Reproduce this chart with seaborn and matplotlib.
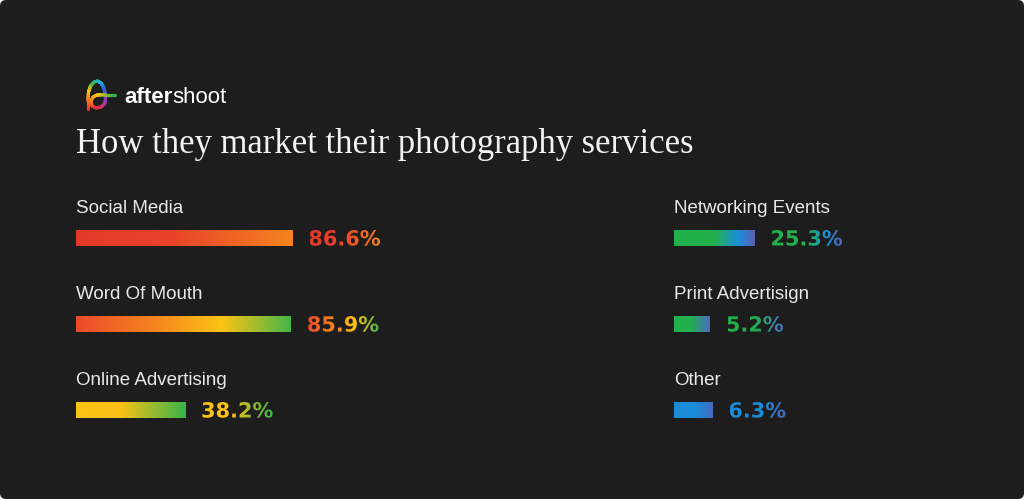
import numpy as np
import pandas as pd
import seaborn as sns
import matplotlib
matplotlib.use('Agg')
import matplotlib.pyplot as plt
from matplotlib.colors import LinearSegmentedColormap
from matplotlib.patches import PathPatch, FancyBboxPatch
from matplotlib.textpath import TextPath
from matplotlib.font_manager import FontProperties
from matplotlib.collections import LineCollection

# data
left_labels = ['Social Media', 'Word Of Mouth', 'Online Advertising']
left_values = [86.6, 85.9, 38.2]
right_labels = ['Networking Events', 'Print Advertisign', 'Other']
right_values = [25.3, 5.2, 6.3]
title = 'How they market their photography services'

# gradient stops per bar (style only)
gradients = {
    'Social Media': [(0, '#e4382b'), (0.45, '#e8442a'), (1, '#f6841f')],
    'Word Of Mouth': [(0, '#ec4a2a'), (0.35, '#f5821f'), (0.68, '#fcc414'), (1, '#45b649')],
    'Online Advertising': [(0, '#fcc414'), (0.4, '#fbc116'), (1, '#38b44a')],
    'Networking Events': [(0, '#21b04b'), (0.5, '#24b04c'), (0.8, '#1b8fdc'), (1, '#5c5fae')],
    'Print Advertisign': [(0, '#21b04b'), (0.45, '#22b04b'), (1, '#4a6cc2')],
    'Other': [(0, '#1b8bd9'), (0.6, '#1c8ad8'), (1, '#4a68be')],
}

BG = '#1d1d1d'
TXT = '#e9e9e9'
W, H = 1024, 499
PX_PER_UNIT = 2.217   # bar scale
STUB = 11             # bars start a little left of zero

sns.set_theme(style='white')
plt.rcParams['font.family'] = ['Liberation Sans', 'DejaVu Sans']

fig = plt.figure(figsize=(W / 100, H / 100), dpi=100, facecolor='white')

# card background
bg = fig.add_axes([0, 0, 1, 1], zorder=0)
bg.set_xlim(0, W)
bg.set_ylim(0, H)
bg.axis('off')
bg.add_patch(FancyBboxPatch((0, 0), W, H, boxstyle='round,pad=0,rounding_size=6',
                            fc=BG, ec='none', transform=bg.transData))

# overlay for gradient text, logo, title (pixel coords, bottom origin)
over = fig.add_axes([0, 0, 1, 1], zorder=3)
over.set_xlim(0, W)
over.set_ylim(0, H)
over.axis('off')
over.patch.set_alpha(0)


def grad_cmap(name):
    return LinearSegmentedColormap.from_list(name, gradients[name])


def gradient_text(x, y, s, cmap, size_pt, prop):
    tp = TextPath((x, y), s, size=size_pt * 100 / 72, prop=prop)
    ext = tp.get_extents()
    pp = PathPatch(tp, fc='none', ec='none', transform=over.transData)
    over.add_patch(pp)
    im = over.imshow(np.linspace(0, 1, 256)[None, :], cmap=cmap, aspect='auto',
                     extent=(ext.x0, ext.x1, ext.y0, ext.y1), interpolation='bilinear')
    im.set_clip_path(pp)


pct_prop = FontProperties(family='DejaVu Sans', weight='bold')
row_h = 86


def draw_column(labels, values, left_px):
    ax_w = (100 + STUB) * PX_PER_UNIT
    top, bottom = 195, 195 + 3 * row_h
    ax = fig.add_axes([left_px / W, (H - bottom) / H, ax_w / W, (bottom - top) / H], zorder=2)
    ax.patch.set_alpha(0)
    df = pd.DataFrame({'label': labels, 'value': values})
    sns.barplot(data=df, x='value', y='label', orient='h', ax=ax, color='white',
                saturation=1, width=16 / row_h)
    for i, (p, lab) in enumerate(zip(ax.patches, labels)):
        p.set_x(p.get_x() - STUB)
        p.set_width(p.get_width() + STUB)
        x0, y0, w, h = p.get_x(), p.get_y(), p.get_width(), p.get_height()
        im = ax.imshow(np.linspace(0, 1, 256)[None, :], cmap=grad_cmap(lab), aspect='auto',
                       extent=(x0, x0 + w, y0 + h, y0), interpolation='bilinear')
        im.set_clip_path(p)
        p.set_facecolor('none')
        p.set_edgecolor('none')
        ax.text(-STUB, i - 25 / row_h, lab, color=TXT, fontsize=13.5, va='baseline',
                family=['Liberation Sans', 'DejaVu Sans'])
    ax.set_xlim(-STUB, 100)
    ax.set_ylim(2.5, -0.5)
    ax.axis('off')
    for i, (lab, v) in enumerate(zip(labels, values)):
        xd, yd = ax.transData.transform((v, i))
        gradient_text(xd + 16, yd - 7.5, f'{v}%', grad_cmap(lab), 15, pct_prop)


draw_column(left_labels, left_values, 76)
draw_column(right_labels, right_values, 674)

# title
over.text(76, H - 153, title, color='#f2f2f2', fontsize=24.9, va='baseline',
          family=['Liberation Serif', 'DejaVu Serif'])

# logo icon: one stroke, arch then loop and crossbar
stroke = np.array([(88, 108.5), (88, 100), (88.5, 92), (90.5, 86), (94, 82), (97.5, 81),
                   (101, 83), (103.5, 87), (105, 93), (105.5, 100), (104.5, 104),
                   (101, 107), (96, 108), (92, 106), (91, 101), (93, 97), (97, 95),
                   (104, 94.7), (115, 94.7)], float)
rainbow = LinearSegmentedColormap.from_list(
    'rb', [(0, '#e8302d'), (0.1, '#f5821f'), (0.18, '#fcc414'), (0.26, '#2db34a'),
           (0.34, '#1fb5e8'), (0.42, '#2f63d8'), (0.52, '#8a3fc0'), (0.6, '#d02f6e'),
           (0.68, '#e8302d'), (0.76, '#f5821f'), (0.84, '#fcc414'), (1, '#2db34a')])


def smooth(pts, n=160):
    seg = np.r_[0, np.cumsum(np.hypot(*np.diff(pts, axis=0).T))]
    tt = np.linspace(0, seg[-1], n)
    return np.column_stack([np.interp(tt, seg, pts[:, 0]), np.interp(tt, seg, pts[:, 1])])


s = smooth(stroke)
s[:, 1] = H - s[:, 1]
segs = np.stack([s[:-1], s[1:]], axis=1)
lc = LineCollection(segs, cmap=rainbow, linewidths=2.3, capstyle='round', joinstyle='round')
lc.set_array(np.linspace(0, 1, len(segs)))
over.add_collection(lc)

t1 = over.text(124, H - 103, 'after', color='white', fontsize=16, weight='bold', va='baseline')
r = fig.canvas.get_renderer()
bb = t1.get_window_extent(r)
over.text(bb.x1, H - 103, 'shoot', color='white', fontsize=16, va='baseline')

fig.savefig('out.png', dpi=100, facecolor=fig.get_facecolor())
